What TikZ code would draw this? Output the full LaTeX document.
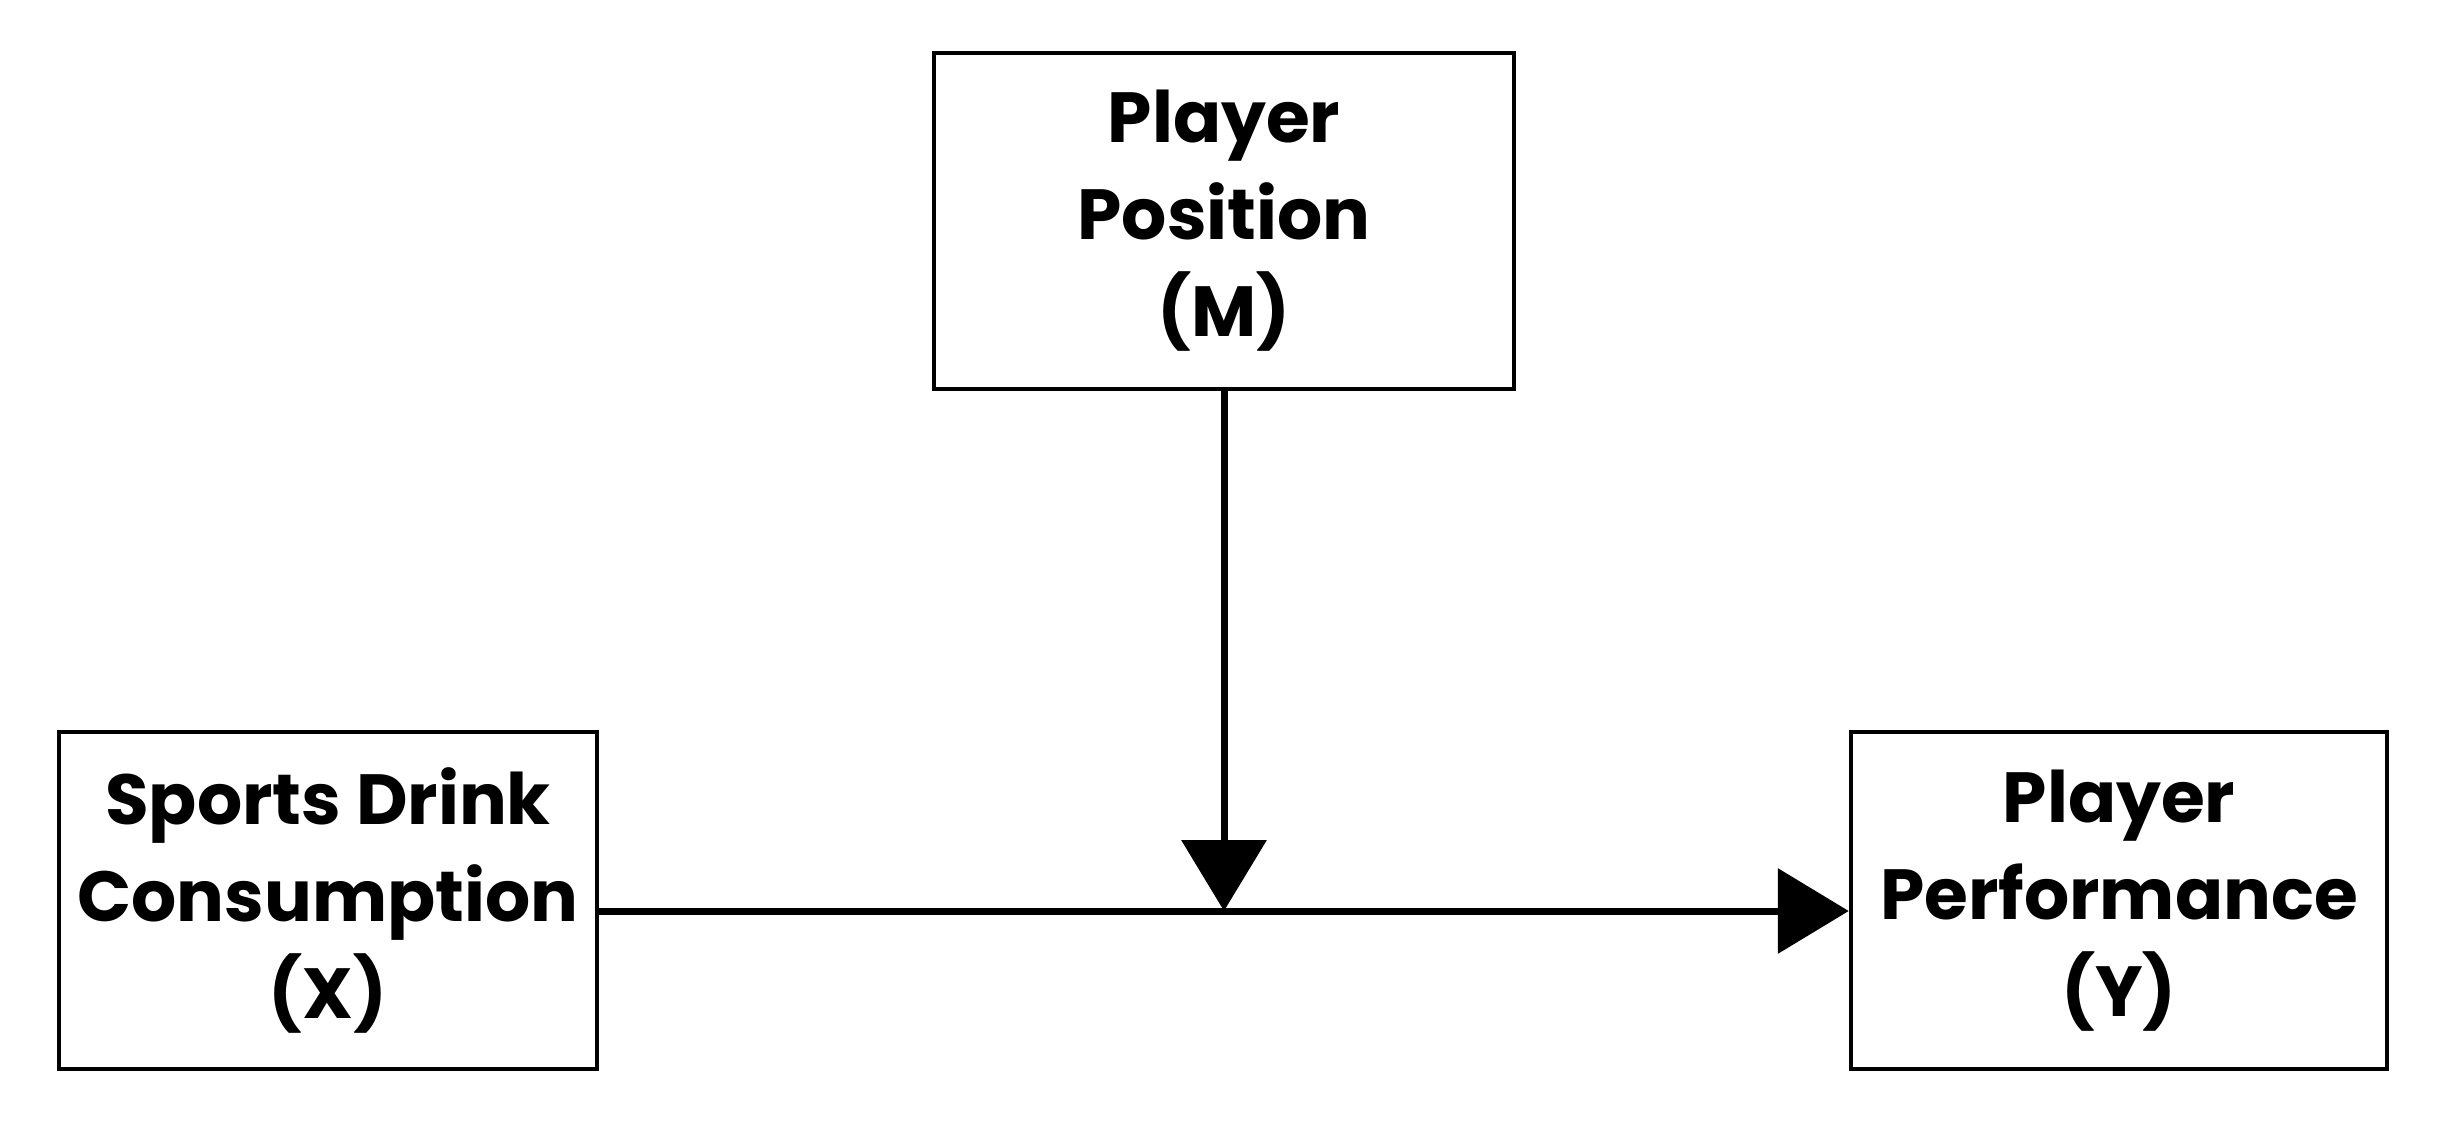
\documentclass[tikz,border=0pt]{standalone}
\usepackage{fontspec}
\newfontfamily\pfont{Poppins}[UprightFont=* Bold]
\usetikzlibrary{arrows.meta}
\begin{document}
\begin{tikzpicture}[x=1pt,y=-1pt,
  box/.style={draw=black,line width=4.5pt,minimum width=#1,inner sep=0pt,align=center,
    font=\pfont\fontsize{71}{97}\selectfont},
  conn/.style={line width=7pt,-{Triangle[length=71pt,width=84pt]}}]
\useasboundingbox (0,0) rectangle (2437,1124);
\node[box=580pt,minimum height=336pt] (M) at (1224,221) {Player\\Position\\(M)};
\node[box=538pt,minimum height=337pt] (X) at (328,900.5) {Sports Drink\\Consumption\\(X)};
\node[box=536pt,minimum height=337pt] (Y) at (2119,900.5) {Player\\Performance\\(Y)};
\coordinate (J) at (1224,911);
\draw[conn] (X.east |- J) -- (Y.west |- J);
\draw[conn] (M.south) -- (J);
\end{tikzpicture}
\end{document}
